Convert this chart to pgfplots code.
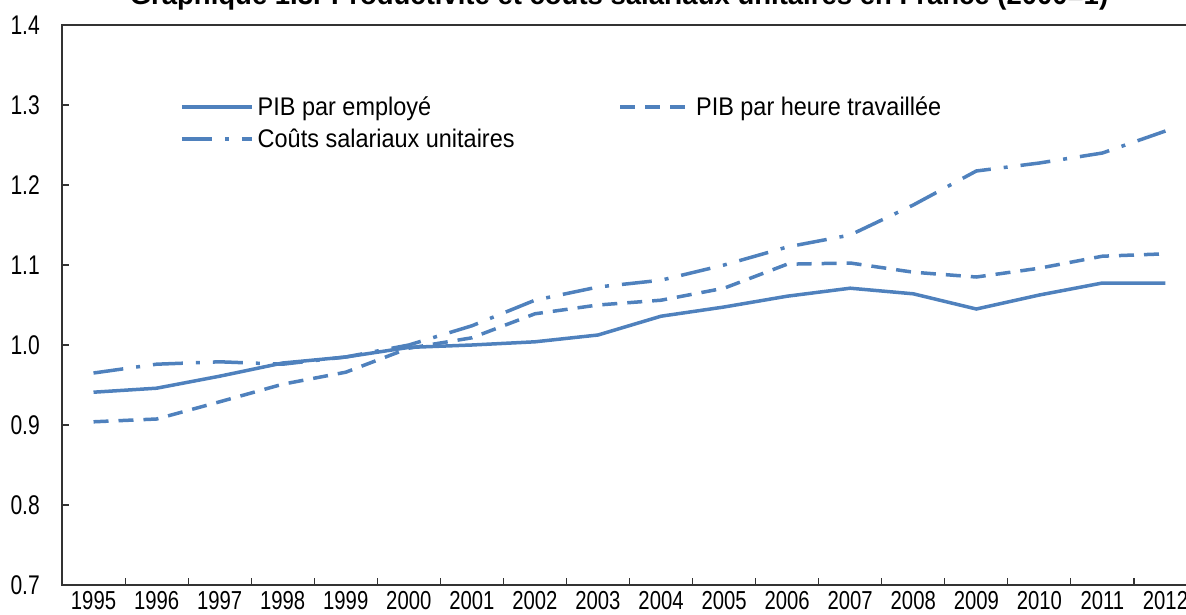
\documentclass[border=0pt]{standalone}
\usepackage{fontspec}
\setmainfont{Liberation Sans}
\newfontfamily\narrowfont{Liberation Sans}[FakeStretch=0.78]
\newfontfamily\legendfont{Liberation Sans}[FakeStretch=0.92]
\usepackage{pgfplots}
\pgfplotsset{compat=1.18}
\definecolor{oecdblue}{HTML}{4F81BD}
\definecolor{axisgray}{HTML}{333333}

\begin{document}
\begin{tikzpicture}
\begin{axis}[
  scale only axis,
  width=1135pt, height=560pt,
  at={(0pt,0pt)}, anchor=south west,
  xmin=-0.5, xmax=17.5,
  ymin=0.7, ymax=1.4,
  axis line style={axisgray, line width=1.3pt},
  xtick={0,...,17},
  xticklabels={1995,1996,1997,1998,1999,2000,2001,2002,2003,2004,2005,2006,2007,2008,2009,2010,2011,2012},
  major x tick style={draw=none},
  minor xtick={0.5,1.5,...,16.5},
  minor x tick style={axisgray, line width=1.1pt},
  minor tick length=7pt,
  ytick={0.7,0.8,...,1.41},
  major y tick style={axisgray, line width=1.1pt},
  major tick length=7pt,
  tick align=inside,
  xtick pos=bottom, ytick pos=left,
  yticklabel={\pgfmathprintnumber[fixed,fixed zerofill,precision=1]{\tick}},
  yticklabel style={font=\fontsize{27}{31}\selectfont\narrowfont, inner sep=0pt, anchor=east, xshift=-22pt},
  xticklabel style={font=\fontsize{26}{30}\selectfont\narrowfont, inner sep=0pt, anchor=north, yshift=-6pt},
  /pgf/number format/assume math mode=true,
  legend columns=2,
  legend cell align=left,
  legend style={draw=none, fill=none, at={(0.104,0.8755)}, anchor=north west, inner sep=0pt,
    font=\fontsize{25.5}{30}\selectfont\legendfont,
    row sep=8pt,
    /tikz/every odd column/.append style={column sep=2pt},
    /tikz/every even column/.append style={column sep=102pt}},
  legend image code/.code={\draw[#1] (0pt,0pt) -- (70pt,0pt);},
  every axis plot/.append style={oecdblue, line width=3.5pt},
]
\addplot[solid] coordinates {
(0,0.941) (1,0.946) (2,0.961) (3,0.9775) (4,0.985) (5,0.997) (6,1.000) (7,1.004) (8,1.0125)
(9,1.036) (10,1.0475) (11,1.061) (12,1.071) (13,1.064) (14,1.045) (15,1.0625) (16,1.0775) (17,1.0775)};
\addlegendentry{PIB par employé}
\addplot[dash pattern=on 15pt off 10pt] coordinates {
(0,0.904) (1,0.9075) (2,0.929) (3,0.951) (4,0.966) (5,0.996) (6,1.009) (7,1.039) (8,1.050)
(9,1.056) (10,1.071) (11,1.101) (12,1.1025) (13,1.091) (14,1.085) (15,1.096) (16,1.111) (17,1.114)};
\addlegendentry{PIB par heure travaillée}
\addplot[dash pattern=on 30pt off 13pt on 4pt off 13pt] coordinates {
(0,0.965) (1,0.976) (2,0.979) (3,0.976) (4,0.985) (5,1.000) (6,1.024) (7,1.056) (8,1.0725)
(9,1.081) (10,1.100) (11,1.1225) (12,1.1375) (13,1.175) (14,1.2175) (15,1.2275) (16,1.240) (17,1.2675)};
\addlegendentry{Coûts salariaux unitaires}
\end{axis}
\node[anchor=base, font=\fontsize{27.5}{32}\selectfont\bfseries] at (557pt,580pt)
  {Graphique 1.3. Productivité et coûts salariaux unitaires en France (2000=1)};
\pgfresetboundingbox
\path (-62pt,-29pt) rectangle (1124pt,585pt);
\end{tikzpicture}
\end{document}
